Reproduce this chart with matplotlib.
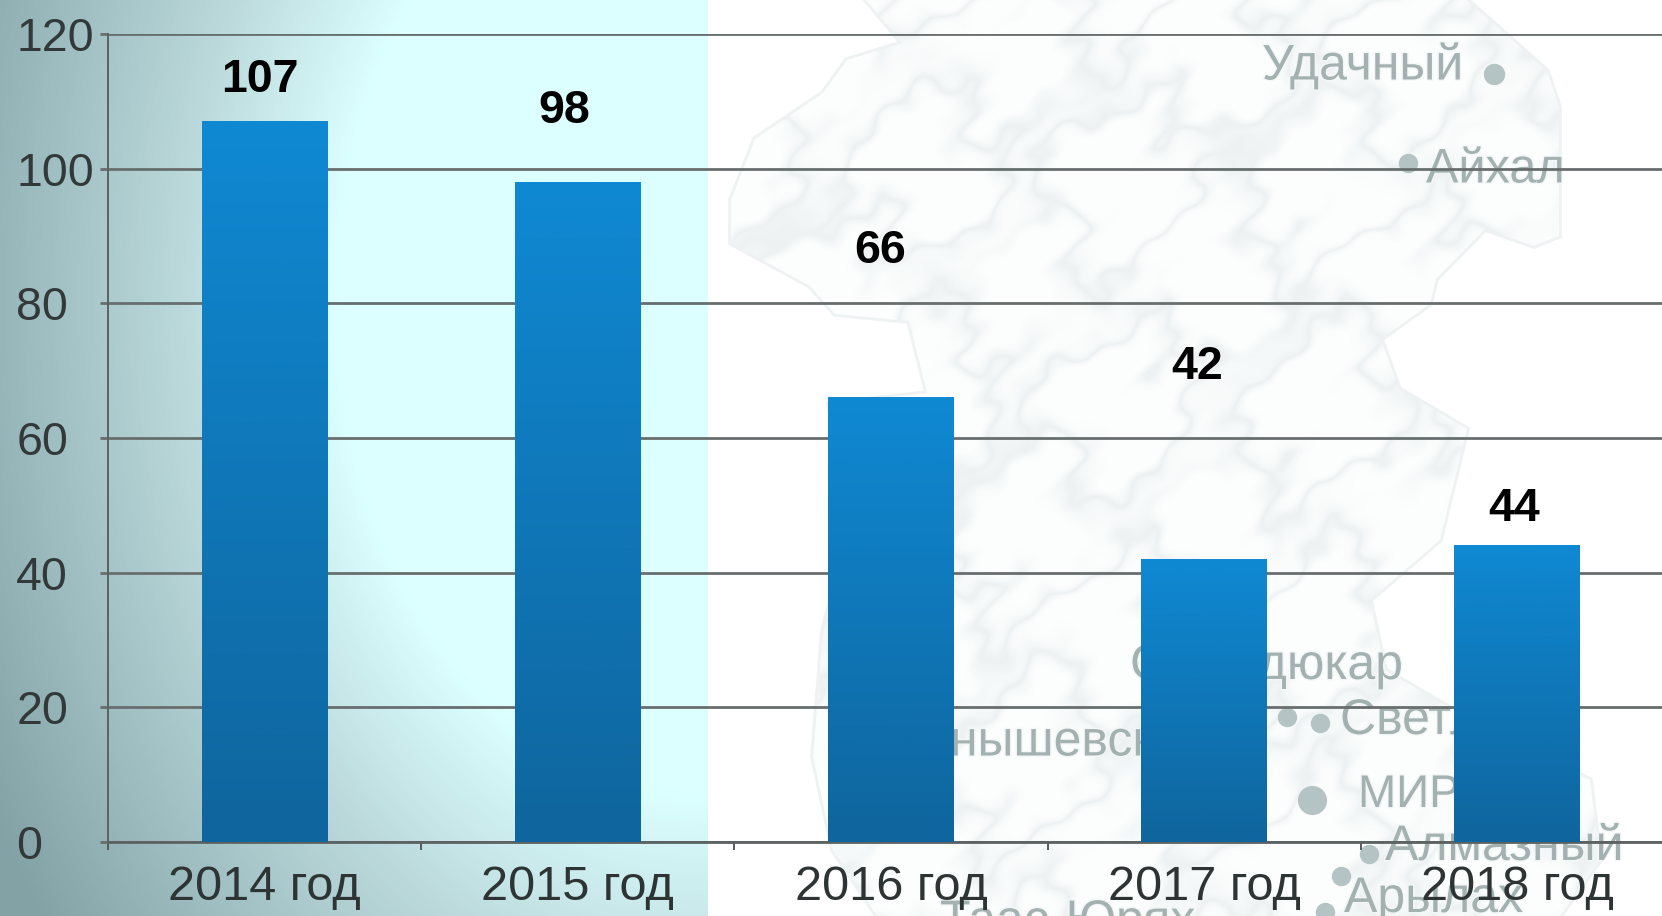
import numpy as np
import matplotlib.pyplot as plt
import matplotlib.patheffects as pe
from matplotlib.colors import LinearSegmentedColormap
from matplotlib.patches import Polygon

plt.rcParams['font.family'] = ['Liberation Sans', 'DejaVu Sans']

years = ['2014 год', '2015 год', '2016 год', '2017 год', '2018 год']
values = [107, 98, 66, 42, 44]
y_ticks = [0, 20, 40, 60, 80, 100, 120]
# подписи сдвинуты вверх от столбца и влево от центра (в пикселях)
label_dx = [-5, -14, -11, -7, -3]
label_dy = [42, 71, 147, 192, 37]

W, H = 1662, 916
fig = plt.figure(figsize=(W / 100, H / 100), dpi=100)

# фон: градиент слева, карта справа
bg = fig.add_axes([0, 0, 1, 1], zorder=0)
bg.set_xlim(0, W)
bg.set_ylim(H, 0)
bg.axis('off')

X, Y = np.meshgrid(np.arange(0, 708), np.arange(0, H))
r = np.sqrt(((X - 700) / 700.0) ** 2 + ((Y - 300) / 950.0) ** 2)
cmap = LinearSegmentedColormap.from_list('fon', [(0, '#dcffff'), (0.45, '#dcffff'), (0.64, '#bcdadc'), (1, '#82a2a6')])
bg.imshow(r, extent=(0, 708, H, 0), cmap=cmap, vmin=0, vmax=1.15, aspect='auto', zorder=1)

# контур карты
map_xy = np.array([(866, 0), (902, 43), (847, 60), (823, 93), (755, 139), (731, 200), (731, 243), (810, 286),
                   (835, 314), (909, 321), (927, 393), (829, 404), (850, 530), (823, 630), (813, 757),
                   (833, 850), (877, 916), (1560, 916), (1600, 860), (1590, 780), (1470, 720), (1385, 670),
                   (1370, 600), (1440, 540), (1467, 429), (1399, 389), (1381, 339), (1430, 304), (1436, 279),
                   (1485, 229), (1534, 246), (1559, 236), (1559, 107), (1547, 71), (1467, 0)])
poly = Polygon(map_xy, closed=True, facecolor='#f8fbfb', edgecolor='#eef2f2', lw=4, zorder=2)
bg.add_patch(poly)
mx, my = np.meshgrid(np.arange(700, 1640), np.arange(0, H))
wx = mx + 14 * np.sin(my / 19.0) + 7 * np.sin(my / 7.0 + mx / 11.0)
wy = my + 14 * np.sin(mx / 23.0) + 7 * np.sin(mx / 9.0 - my / 13.0)
tex = np.abs(np.sin(wx / 31.0) + np.sin(wy / 37.0) + 0.6 * np.sin((wx + wy) / 17.0))
tex_cmap = LinearSegmentedColormap.from_list('tex', ['#edf1f1', '#f5f8f8', '#fafcfc', '#fcfdfd'])
im = bg.imshow(tex, extent=(700, 1640, H, 0), cmap=tex_cmap, vmin=0, vmax=1.0, aspect='auto', zorder=3)
im.set_clip_path(poly)

# города
towns = [('Удачный', 1262, 66, 36), ('Айхал', 1426, 170, 35), ('Сюльдюкар', 1130, 666, 36),
         ('Чернышевский', 861, 742, 36), ('Светлый', 1340, 721, 36), ('МИРНЫЙ', 1358, 795, 33),
         ('Алмазный', 1385, 847, 36), ('Арылах', 1344, 899, 36), ('Таас-Юрях', 940, 922, 36)]
for name, tx, ty, fs in towns:
    bg.text(tx, ty, name, fontsize=fs, color='#a3b1b1', ha='left', va='center', zorder=4,
            path_effects=[pe.withStroke(linewidth=2, foreground='#f4f7f7')])
dots = [(1494, 74, 11), (1408, 163, 10), (1287, 717, 10), (1320, 723, 10), (1312, 800, 15),
        (1369, 854, 10), (1341, 876, 10), (1325, 912, 10)]
for dx_, dy_, ds in dots:
    bg.plot(dx_, dy_, 'o', ms=ds * 1.4, mfc='#b4c4c4', mec='none', zorder=4)
bg.set_xlim(0, W)
bg.set_ylim(H, 0)

# сам график
left, right, top, bottom = 108, W, 34, 842
ax = fig.add_axes([left / W, 1 - bottom / H, (right - left) / W, (bottom - top) / H], zorder=1)
ax.patch.set_alpha(0)

bars = ax.bar(range(len(years)), values, width=0.402, color='none', zorder=3)
grad = np.linspace(0, 1, 256).reshape(-1, 1)
bar_cmap = LinearSegmentedColormap.from_list('bar', ['#0f89d3', '#0f659d'])
for b in bars:
    x0, w, h = b.get_x(), b.get_width(), b.get_height()
    ax.imshow(grad, extent=(x0, x0 + w, 0, h), cmap=bar_cmap, aspect='auto', zorder=3)

ax.set_xlim(-0.5, -0.5 + (right - left) / 313.2)
ax.set_ylim(0, 120)

ax.set_yticks(y_ticks)
ax.set_xticks(np.arange(0, 5) - 0.5, minor=False)
ax.set_xticklabels([''] * 5)
ax.grid(axis='y', color='#686d6d', lw=2, zorder=1)
ax.tick_params(axis='y', length=6, width=2, color='#686d6d', labelsize=33.5, labelcolor='#333838', pad=60)
ax.tick_params(axis='x', length=6, width=1.4, color='#555a5a')
for lab in ax.get_yticklabels():
    lab.set_ha('left')
for s in ['top', 'right']:
    ax.spines[s].set_visible(False)
ax.spines['left'].set_color('#5c6262')
ax.spines['left'].set_linewidth(1.4)
ax.spines['bottom'].set_color('#5c6262')
ax.spines['bottom'].set_linewidth(2)

for i, y in enumerate(years):
    ax.annotate(y, (i, 0), xytext=(0, -46 * 0.72), textcoords='offset points', ha='center', va='center',
                fontsize=35, color='#2e3333', annotation_clip=False)
for i, v in enumerate(values):
    ax.annotate(str(v), (i, v), xytext=(label_dx[i] * 0.72, label_dy[i] * 0.72), textcoords='offset points',
                ha='center', va='center', fontsize=33.5, fontweight='bold', color='black', zorder=5)

fig.savefig('out.png', dpi=100)
